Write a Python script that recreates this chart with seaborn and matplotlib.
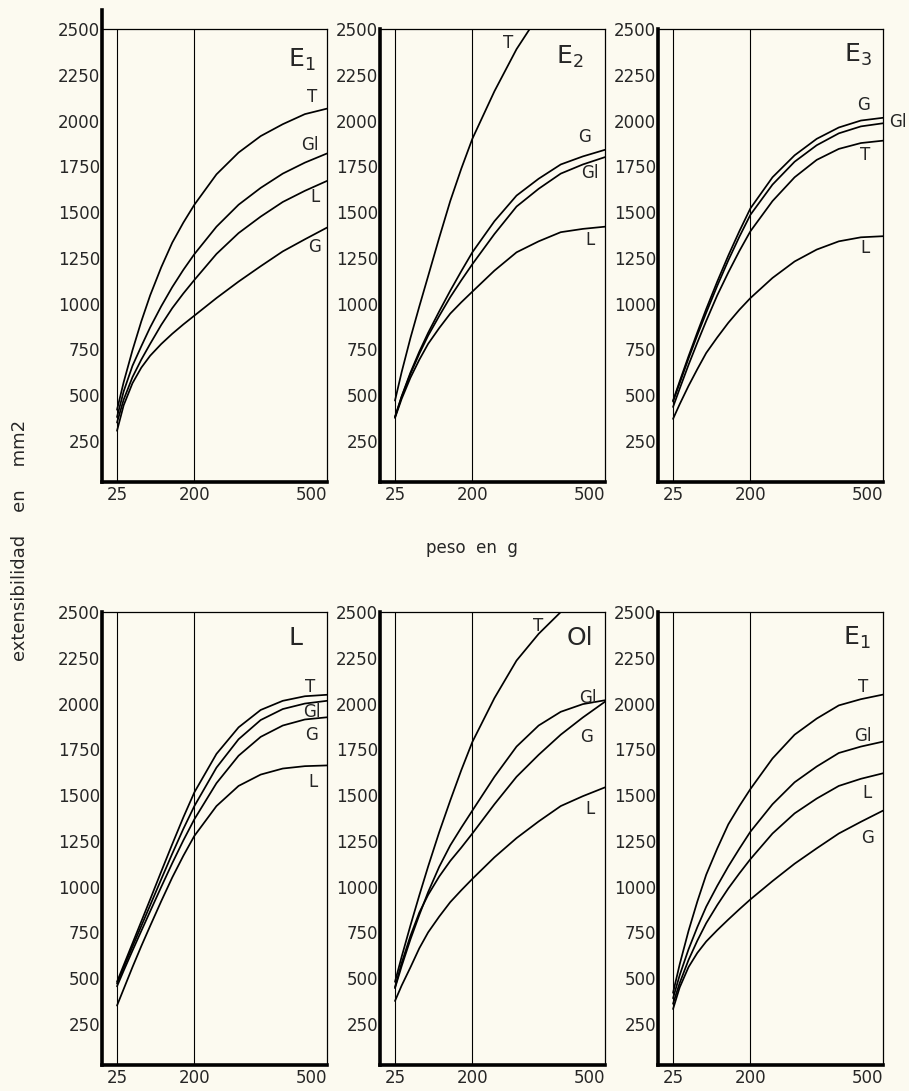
import matplotlib
matplotlib.use("Agg")
import matplotlib.pyplot as plt
import seaborn as sns

# peso en g (x)
PESO = [25, 40, 60, 80, 100, 125, 150, 175, 200, 250, 300, 350, 400, 450, 500]

# panel E1 (top left)
E1A_T = [420, 570, 745, 903, 1045, 1198, 1333, 1442, 1540, 1706, 1825, 1915, 1980, 2035, 2065]
E1A_GL = [380, 520, 660, 767, 870, 985, 1090, 1184, 1270, 1420, 1540, 1632, 1710, 1770, 1820]
E1A_L = [350, 475, 598, 694, 780, 883, 975, 1055, 1129, 1271, 1385, 1475, 1555, 1616, 1670]
E1A_G = [305, 444, 565, 650, 715, 779, 835, 886, 934, 1030, 1120, 1204, 1285, 1351, 1415]

# panel E2
E2_T = [470, 625, 812, 984, 1150, 1359, 1560, 1737, 1900, 2160, 2390, 2575, 2740, 2860, 2950]
E2_G = [380, 493, 623, 737, 840, 957, 1070, 1177, 1280, 1450, 1590, 1682, 1760, 1804, 1840]
E2_GL = [380, 490, 616, 726, 825, 932, 1035, 1127, 1215, 1380, 1530, 1627, 1710, 1760, 1800]
E2_L = [375, 479, 595, 693, 780, 866, 945, 1007, 1065, 1180, 1280, 1340, 1390, 1408, 1420]

# panel E3
E3_G = [470, 575, 712, 843, 970, 1120, 1262, 1395, 1520, 1690, 1810, 1900, 1962, 2000, 2015]
E3_GL = [465, 565, 700, 828, 950, 1097, 1236, 1365, 1485, 1650, 1775, 1865, 1930, 1968, 1985]
E3_T = [435, 535, 665, 787, 905, 1045, 1170, 1287, 1395, 1560, 1690, 1785, 1845, 1877, 1890]
E3_L = [370, 450, 550, 642, 730, 815, 895, 966, 1030, 1140, 1230, 1295, 1340, 1362, 1368]

# panel L
L_T = [480, 570, 690, 810, 930, 1082, 1232, 1378, 1515, 1725, 1870, 1965, 2015, 2040, 2048]
L_GL = [470, 558, 672, 785, 898, 1040, 1180, 1315, 1440, 1650, 1805, 1910, 1970, 2000, 2015]
L_G = [455, 540, 650, 758, 865, 998, 1128, 1252, 1368, 1565, 1715, 1818, 1880, 1913, 1925]
L_L = [350, 440, 560, 675, 785, 920, 1050, 1168, 1277, 1440, 1550, 1612, 1645, 1658, 1662]

# panel Ol
OL_T = [480, 616, 788, 952, 1110, 1297, 1470, 1636, 1790, 2030, 2235, 2381, 2500, 2620, 2720]
OL_GL = [445, 565, 712, 845, 970, 1108, 1225, 1322, 1415, 1600, 1765, 1880, 1955, 1997, 2018]
OL_G = [450, 582, 731, 858, 955, 1055, 1140, 1213, 1290, 1450, 1600, 1720, 1830, 1924, 2010]
OL_L = [375, 459, 559, 663, 750, 836, 915, 980, 1042, 1160, 1265, 1356, 1440, 1494, 1542]

# panel E1 (bottom right)
E1B_T = [420, 575, 758, 919, 1065, 1208, 1340, 1440, 1533, 1700, 1830, 1918, 1990, 2024, 2049]
E1B_GL = [390, 516, 657, 779, 890, 1004, 1110, 1207, 1300, 1450, 1570, 1656, 1730, 1765, 1792]
E1B_L = [360, 473, 599, 705, 800, 899, 990, 1072, 1150, 1290, 1400, 1481, 1550, 1589, 1619]
E1B_G = [331, 449, 560, 638, 700, 762, 820, 876, 930, 1030, 1125, 1209, 1290, 1354, 1415]

Y_TICKS = [250, 500, 750, 1000, 1250, 1500, 1750, 2000, 2250, 2500]
X_TICKS = [25, 200, 500]

panels = [
    ("E$_1$", (443, 2330), [(E1A_T, "T", 466, 2128), (E1A_GL, "Gl", 462, 1865),
                            (E1A_L, "L", 473, 1580), (E1A_G, "G", 473, 1307)]),
    ("E$_2$", (421, 2347), [(E2_T, "T", 281, 2423), (E2_G, "G", 455, 1909),
                            (E2_GL, "Gl", 466, 1712), (E2_L, "L", 466, 1345)]),
    ("E$_3$", (443, 2358), [(E3_G, "G", 455, 2084), (E3_GL, "Gl", 534, 1991),
                            (E3_T, "T", 459, 1810), (E3_L, "L", 459, 1301)]),
    ("L", (428, 2358), [(L_T, "T", 462, 2091), (L_GL, "Gl", 466, 1955),
                        (L_G, "G", 466, 1830), (L_L, "L", 468, 1574)]),
    ("Ol", (443, 2359), [(OL_T, "T", 348, 2424), (OL_GL, "Gl", 462, 2033),
                         (OL_G, "G", 459, 1815), (OL_L, "L", 466, 1424)]),
    ("E$_1$", (441, 2357), [(E1B_T, "T", 455, 2088), (E1B_GL, "Gl", 455, 1825),
                            (E1B_L, "L", 464, 1512), (E1B_G, "G", 464, 1265)]),
]

sns.set_theme(style="white")
plt.rcParams["font.family"] = ["DejaVu Sans"]
paper = "#fcfaf0"

fig = plt.figure(figsize=(9.09, 10.91), dpi=100, facecolor=paper)
lefts = [0.1122, 0.418, 0.7239]
bottoms = [0.5582, 0.0238]
w, h = 0.2475, 0.4152

for i, (title, tpos, curves) in enumerate(panels):
    ax = fig.add_axes([lefts[i % 3], bottoms[i // 3], w, h])
    ax.set_facecolor(paper)
    for xv in (25, 200):
        ax.axvline(xv, color="black", lw=0.8, zorder=1)
    for vals, lab, lx, ly in curves:
        sns.lineplot(x=PESO, y=vals, color="black", lw=1.25, ax=ax)
        ax.text(lx, ly, lab, fontsize=12, ha="center", va="center", clip_on=False)
    ax.text(tpos[0], tpos[1], title, fontsize=18, ha="center", va="center")
    ax.set_xlim(-9, 500)
    ax.set_ylim(25, 2500)
    ax.set_xticks(X_TICKS)
    ax.set_xticklabels([str(v) for v in X_TICKS])
    ax.get_xticklabels()[-1].set_ha("right")
    ax.set_yticks(Y_TICKS)
    ax.set_yticklabels([str(v) for v in Y_TICKS])
    ax.tick_params(length=0, labelsize=12, pad=1.5)
    ax.tick_params(axis="x", pad=3)
    for side in ("top", "right"):
        ax.spines[side].set_linewidth(0.9)
        ax.spines[side].set_color("black")
    for side in ("left", "bottom"):
        ax.spines[side].set_linewidth(2.6)
        ax.spines[side].set_color("black")
    if i == 0:
        ax.spines["left"].set_bounds(25, 2604)
    ax.set_xlabel("")
    ax.set_ylabel("")

fig.text(0.022, 1 - 540 / 1091, "extensibilidad    en    mm2", rotation=90,
         ha="center", va="center", fontsize=13)
fig.text(472 / 909, 1 - 548 / 1091, "peso  en  g", ha="center", va="center", fontsize=12)

fig.savefig("out.png", dpi=100, facecolor=paper)
